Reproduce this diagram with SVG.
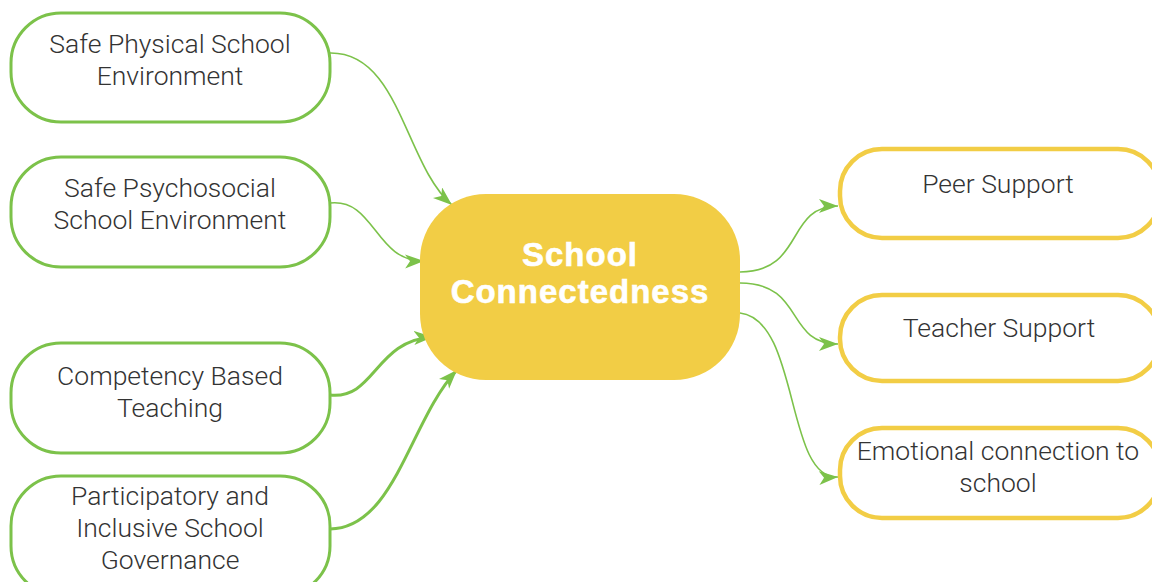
<svg xmlns="http://www.w3.org/2000/svg" width="1152" height="582" viewBox="0 0 1152 582">
<style>
.ln{fill:#fff;stroke:#7cc24a;stroke-width:3}
.rn{fill:#fff;stroke:#f2cd45;stroke-width:4.5}
.t{font-family:Roboto,"Liberation Sans",sans-serif;font-weight:300;font-size:26.5px;fill:#333;text-anchor:middle}
.c{font-family:"Liberation Sans",Arial,sans-serif;font-weight:bold;font-size:33px;fill:#fff;text-anchor:middle;letter-spacing:1px;stroke:#fff;stroke-width:0.6}
.e{fill:none;stroke:#7cc24a;stroke-width:1.6}
.E{fill:none;stroke:#7cc24a;stroke-width:3}
</style>
<defs>
<marker id="ah" markerUnits="userSpaceOnUse" markerWidth="22" markerHeight="16" refX="19" refY="7" orient="auto">
<path d="M0,0 L19,7 L0,14 L5,7 Z" fill="#7cc24a"/>
</marker>
</defs>
<rect width="1152" height="582" fill="#fff"/>
<g id="connectors">
<path class="e" d="M330,53 C400,52 405,165 452,205" marker-end="url(#ah)"/>
<path class="e" d="M330,203 C375,198 375,262 424,261" marker-end="url(#ah)"/>
<path class="E" d="M330,395 C375,400 375,340 433,337" marker-end="url(#ah)"/>
<path class="E" d="M330,529 C395,528 410,420 457,370" marker-end="url(#ah)"/>
<path class="e" d="M740,272 C805,272 785,206 838,206" marker-end="url(#ah)"/>
<path class="e" d="M740,283 C805,283 785,344 838,344" marker-end="url(#ah)"/>
<path class="e" d="M740,313 C800,320 785,480 838,477" marker-end="url(#ah)"/>
</g>
<g id="center">
<rect x="420" y="194" width="320" height="186" rx="66" fill="#f2cd45"/>
<text class="c" x="580" y="266">School</text>
<text class="c" x="580" y="303">Connectedness</text>
</g>
<g id="n1">
<rect class="ln" x="11" y="13" width="319" height="109" rx="50"/>
<text class="t" x="170" y="53">Safe Physical School</text>
<text class="t" x="170" y="85">Environment</text>
</g>
<g id="n2">
<rect class="ln" x="11" y="157" width="319" height="110" rx="50"/>
<text class="t" x="170" y="197">Safe Psychosocial</text>
<text class="t" x="170" y="229">School Environment</text>
</g>
<g id="n3">
<rect class="ln" x="11" y="343" width="319" height="110" rx="50"/>
<text class="t" x="170" y="385">Competency Based</text>
<text class="t" x="170" y="417">Teaching</text>
</g>
<g id="n4">
<rect class="ln" x="11" y="476" width="319" height="120" rx="50"/>
<text class="t" x="170" y="505">Participatory and</text>
<text class="t" x="170" y="537">Inclusive School</text>
<text class="t" x="170" y="569">Governance</text>
</g>
<g id="r1">
<rect class="rn" x="840" y="149" width="320" height="89" rx="42"/>
<text class="t" x="998" y="193">Peer Support</text>
</g>
<g id="r2">
<rect class="rn" x="840" y="295" width="320" height="86" rx="42"/>
<text class="t" x="999" y="337">Teacher Support</text>
</g>
<g id="r3">
<rect class="rn" x="840" y="428" width="320" height="90" rx="42"/>
<text class="t" x="998" y="460">Emotional connection to</text>
<text class="t" x="998" y="492">school</text>
</g>
</svg>
